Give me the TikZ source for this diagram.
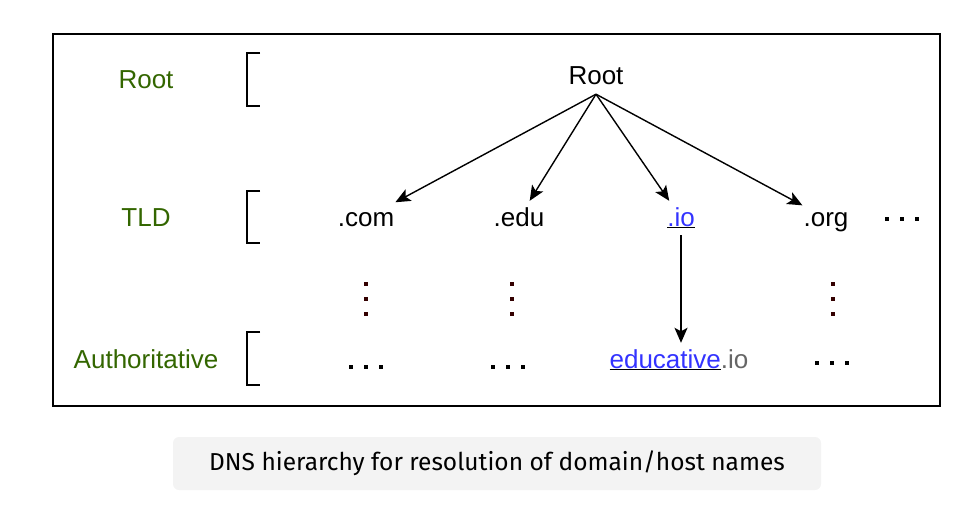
\documentclass[tikz,border=0pt]{standalone}
\usepackage{fontspec}
\setmainfont{Liberation Sans}
\newfontfamily\captionfont{Fira Sans}
\usetikzlibrary{arrows.meta}

\definecolor{levelgreen}{HTML}{336600}
\definecolor{linkblue}{HTML}{3333FF}
\definecolor{tailgrey}{HTML}{666666}
\definecolor{vdotred}{HTML}{330000}
\definecolor{captionbg}{HTML}{F3F3F3}

\tikzset{
  levelname/.style={anchor=base, text=levelgreen, font=\fontsize{26}{30}\selectfont},
  tldname/.style={anchor=base, font=\fontsize{26}{30}\selectfont, inner sep=1pt,
    text height=24pt, text depth=8pt},
  hop/.style={-{Stealth[length=15pt,width=13pt,inset=3.5pt]}, line width=1.4pt},
  bracket/.style={line width=1.4pt},
}

\begin{document}
\begin{tikzpicture}[x=1pt, y=-1pt]
        \useasboundingbox (0,0) rectangle (961,516);
        \draw[black, line width=1.5pt] (53,34) rectangle (940,406);

        % level names on the left
        \node[levelname] (lvlroot) at (146,89) {Root};
        \node[levelname] (lvltld) at (146,226) {TLD};
        \node[levelname] (lvlauth) at (146,368) {Authoritative};
        \draw[bracket] (260,53) -- (247,53) -- (247,106) -- (260,106);
        \draw[bracket] (260,191) -- (247,191) -- (247,243) -- (260,243);
        \draw[bracket] (260,332) -- (247,332) -- (247,385) -- (260,385);

        % the tree
        \node[tldname] (root) at (596,85) {Root};
        \node[tldname] (com) at (366,226) {.com};
        \node[tldname] (edu) at (519,226) {.edu};
        \node[tldname] (io) at (681,226) {\underline{\textcolor{linkblue}{.io}}};
        \node[tldname] (org) at (826,226) {.org};
        \node[tldname] (eduio) at (679,368) {\underline{\textcolor{linkblue}{educative}}\textcolor{tailgrey}{.io}};

        \draw[hop] (root.south) -- (com);
        \draw[hop] (root.south) -- (edu);
        \draw[hop] (root.south) -- (io);
        \draw[hop] (root.south) -- (org);
        \draw[hop] (io.south) -- (io.south |- eduio.north);

        % dots
        \foreach \x in {887,902,917} \fill[black] (\x-1.8,219-1.8) rectangle (\x+1.8,219+1.8);
        \foreach \x in {351,366,381,493,508,523} \fill[black] (\x-1.8,367-1.8) rectangle (\x+1.8,367+1.8);
        \foreach \x in {817,832,847} \fill[black] (\x-1.8,363-1.8) rectangle (\x+1.8,363+1.8);
        \foreach \y in {284,299,314} {
          \fill[vdotred] (366-1.8,\y-1.8) rectangle (366+1.8,\y+1.8);
          \fill[vdotred] (512-1.8,\y-1.8) rectangle (512+1.8,\y+1.8);
          \fill[vdotred] (833-1.8,\y-1.8) rectangle (833+1.8,\y+1.8);
        }

        % caption
        \fill[captionbg, rounded corners=6pt] (173,437) rectangle (821,490);
        \node[font=\captionfont\fontsize{24.5}{28}\selectfont] (caption) at (497,463) {DNS hierarchy for resolution of domain/host names};
    \end{tikzpicture}
\end{document}
